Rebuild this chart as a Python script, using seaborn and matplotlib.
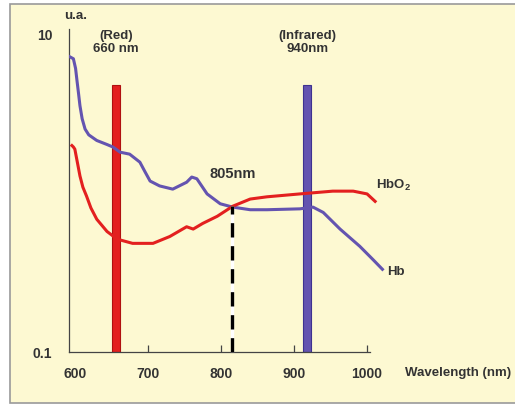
import matplotlib
matplotlib.use('Agg')
import matplotlib.pyplot as plt
import seaborn as sns
import pandas as pd
from matplotlib.patches import Rectangle

# absorption curves (nm, arbitrary units)
hb_nm = [593, 598, 601, 603, 605, 607, 610, 614, 619, 630, 644, 652, 662, 675, 689, 696, 703, 716,
         734, 753, 760, 767, 781, 799, 816, 840, 863, 908, 926, 940, 963, 990, 1008, 1021]
hb_val = [7.1, 6.9, 6.0, 5.0, 4.2, 3.5, 2.9, 2.5, 2.3, 2.12, 2.0, 1.93, 1.79, 1.74, 1.55, 1.35, 1.18, 1.10,
          1.05, 1.16, 1.25, 1.22, 0.98, 0.85, 0.81, 0.78, 0.78, 0.79, 0.81, 0.75, 0.59, 0.46, 0.38, 0.33]

hbo2_nm = [596, 598, 600, 604, 607, 611, 616, 622, 630, 644, 658, 679, 707, 730, 753, 762, 775, 795, 816,
           840, 863, 908, 953, 981, 1000, 1011]
hbo2_val = [1.97, 1.93, 1.87, 1.5, 1.27, 1.08, 0.95, 0.8, 0.68, 0.57, 0.51, 0.48, 0.48, 0.53, 0.61, 0.59,
            0.64, 0.71, 0.82, 0.91, 0.94, 0.98, 1.02, 1.02, 0.98, 0.88]

led_nm = [656, 918]
led_top = [4.72, 4.72]
led_names = ['(Red)\n660 nm', '(Infrared)\n940nm']
isosbestic_nm = 815
isosbestic_val = 0.82

red = '#e3201f'
blue = '#6454b0'
txt = '#333333'
cream = '#fdf9d2'

plt.rcParams['font.family'] = ['Liberation Sans', 'DejaVu Sans']
plt.rcParams['mathtext.fontset'] = 'custom'
plt.rcParams['mathtext.rm'] = 'Liberation Sans:bold'
plt.rcParams['mathtext.default'] = 'rm'

fig = plt.figure(figsize=(5.15, 4.06), dpi=100, facecolor='white')
fig.patches.append(Rectangle((10 / 515, 2 / 406), 1.1, 399 / 406, transform=fig.transFigure,
                             facecolor=cream, edgecolor='#9a9a9a', lw=1.2, zorder=-5))

ax = fig.add_axes([69 / 515, 53 / 406, 320 / 515, 323 / 406])
ax.set_zorder(2)
ax.patch.set_visible(False)
ax.set_yscale('log')
ax.set_xlim(592, 1030)
ax.set_ylim(0.1, 10.6)

# LED bars
ax.bar(led_nm, [t - 0.1 for t in led_top], bottom=0.1, width=11,
       color=[red, blue], edgecolor=['#b01010', '#3e3290'], lw=0.8, zorder=2)

df_hb = pd.DataFrame({'nm': hb_nm, 'val': hb_val})
df_hbo2 = pd.DataFrame({'nm': hbo2_nm, 'val': hbo2_val})
sns.lineplot(data=df_hb, x='nm', y='val', color=blue, lw=2.2, ax=ax, zorder=3)
sns.lineplot(data=df_hbo2, x='nm', y='val', color=red, lw=2.2, ax=ax, zorder=3)

# isosbestic point marker
ax.plot([isosbestic_nm, isosbestic_nm], [0.1, isosbestic_val], color='white', lw=2.4,
        zorder=4, clip_on=False, solid_capstyle='butt')
ax.plot([isosbestic_nm, isosbestic_nm], [0.1, isosbestic_val], color='black', lw=2.4,
        dashes=(4.3, 2.6), zorder=5, clip_on=False)

for spine in ['top', 'right']:
    ax.spines[spine].set_visible(False)
for spine in ['left', 'bottom']:
    ax.spines[spine].set_color('#444444')
    ax.spines[spine].set_linewidth(0.9)
ax.spines['bottom'].set_bounds(592, 1004)

ax.set_xticks([600, 700, 800, 900, 1000])
ax.set_xticklabels(['600', '700', '800', '900', '1000'])
ax.tick_params(axis='x', direction='in', length=5, width=0.9, color='#444444', pad=10,
               labelsize=10, labelcolor=txt)
ax.xaxis.get_major_ticks()[0].tick1line.set_visible(False)
ax.set_yticks([0.1, 10])
ax.set_yticklabels(['0.1', '10'])
ax.yaxis.set_minor_locator(matplotlib.ticker.NullLocator())
ax.tick_params(axis='y', length=0, pad=12, labelsize=10, labelcolor=txt)
for lab in ax.get_xticklabels() + ax.get_yticklabels():
    lab.set_fontweight('bold')
ax.set_xlabel('')
ax.set_ylabel('')

ax.text(601.5, 13.0, 'u.a.', ha='center', va='center', fontsize=9.5, fontweight='bold',
        color=txt, clip_on=False)
for x, name in zip(led_nm, led_names):
    ax.text(x, 8.9, name, ha='center', va='center', fontsize=9.5, fontweight='bold',
            color=txt, linespacing=1.1, clip_on=False)
ax.text(isosbestic_nm + 1, 1.32, '805nm', ha='center', va='center', fontsize=10.5,
        fontweight='bold', color=txt)
ax.text(1012, 1.13, r'HbO$_2$', ha='left', va='center', fontsize=9.5, fontweight='bold',
        color=txt, clip_on=False)
ax.text(1027, 0.322, 'Hb', ha='left', va='center', fontsize=9.5, fontweight='bold',
        color=txt, clip_on=False)
ax.text(1052, -0.062, 'Wavelength (nm)', transform=ax.get_xaxis_transform(), ha='left',
        va='center', fontsize=9.5, fontweight='bold', color=txt, clip_on=False)

fig.savefig('out.png', dpi=100, facecolor='white')
